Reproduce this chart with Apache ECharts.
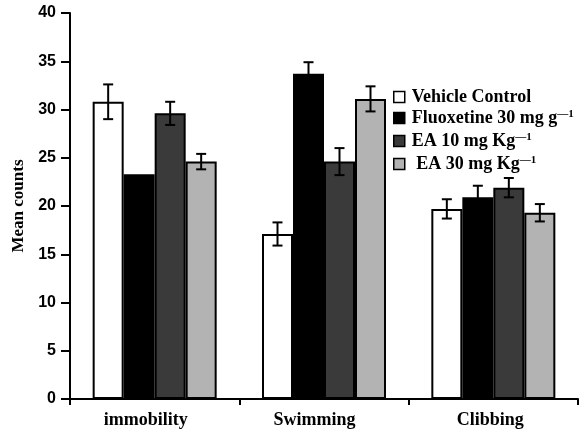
<!DOCTYPE html>
<html><head><meta charset="utf-8">
<script src="https://cdn.jsdelivr.net/npm/echarts@6/dist/echarts.min.js"></script>
<style>html,body{margin:0;padding:0;background:#fff}#c{width:584px;height:435px}</style>
</head><body><div id="c"></div>
<script>
const categories = ['immobility', 'Swimming', 'Clibbing'];
const seriesNames = ['Vehicle Control', 'Fluoxetine 30 mg g{sup|—1}', 'EA 10 mg Kg{sup|—1}', ' EA 30 mg Kg{sup|—1}'];
const vehicle = [30.8, 17.1, 19.7];
const fluoxetine = [23.3, 33.7, 20.9];
const ea10 = [29.6, 24.6, 21.9];
const ea30 = [24.6, 31.1, 19.3];
const vehicleErr = [1.8, 1.2, 1.0];
const fluoxetineErr = [0, 1.2, 1.2];
const ea10Err = [1.2, 1.4, 1.0];
const ea30Err = [0.8, 1.3, 0.9];
const yTicks = [0, 5, 10, 15, 20, 25, 30, 35, 40];

const values = [vehicle, fluoxetine, ea10, ea30];
const errs = [vehicleErr, fluoxetineErr, ea10Err, ea30Err];
const colors = ['#ffffff', '#000000', '#3a3a3a', '#b3b3b3'];
const barW = 31;
const serif = 'Liberation Serif';
const sans = 'Liberation Sans';
// per-label style nudges (label placement in the original)
const labelStyles = {
  l0: { padding: [0, 18, 0, 0] },
  l1: { padding: [0, 19, 2, 0] },
  l2: { padding: [0, 6, 0, 0] }
};
Object.values(labelStyles).forEach(s => Object.assign(s, { fontFamily: serif, fontWeight: 'bold', fontSize: 18, color: '#000' }));

const chart = echarts.init(document.getElementById('c'));
const series = [];
values.forEach((v, i) => {
  series.push({
    name: seriesNames[i], type: 'bar', data: v, barWidth: barW, barGap: '0%',
    itemStyle: { color: colors[i], borderColor: '#000', borderWidth: 2 }
  });
});
values.forEach((v, i) => {
  series.push({
    type: 'custom', silent: true, z: 5,
    data: v.map((val, k) => [k, val, errs[i][k]]),
    renderItem: function (params, api) {
      const k = api.value(0), val = api.value(1), e = api.value(2);
      if (!e) return null;
      const top = api.coord([k, val + e]);
      const bot = api.coord([k, val - e]);
      const x = top[0] + (i - 1.5) * barW;
      const cw = 5;
      const st = { stroke: '#000', lineWidth: 2 };
      return { type: 'group', children: [
        { type: 'line', shape: { x1: x, y1: top[1], x2: x, y2: bot[1] }, style: st },
        { type: 'line', shape: { x1: x - cw, y1: top[1], x2: x + cw, y2: top[1] }, style: st },
        { type: 'line', shape: { x1: x - cw, y1: bot[1], x2: x + cw, y2: bot[1] }, style: st }
      ]};
    }
  });
});

chart.setOption({
  animation: false,
  grid: { left: 70, right: 6, top: 13, bottom: 36, containLabel: false, outerBoundsMode: 'none' },
  legend: {
    orient: 'vertical', left: 393, top: 88, itemWidth: 11, itemHeight: 11, itemGap: 3,
    icon: 'rect', padding: 0,
    data: seriesNames.map((n, i) => ({ name: n, itemStyle: { color: colors[i], borderColor: '#000', borderWidth: 1.5 } })),
    textStyle: { fontFamily: serif, fontWeight: 'bold', fontSize: 18, lineHeight: 18, color: '#000', padding: [0, 0, 0, 2],
      rich: { sup: { fontFamily: serif, fontSize: 11, lineHeight: 18, fontWeight: 'bold', color: '#000', verticalAlign: 'top', padding: [0, 0, 9, 0] } } }
  },
  xAxis: {
    type: 'category', data: categories,
    axisLine: { lineStyle: { color: '#000', width: 2 } },
    axisTick: { show: true, length: 6, lineStyle: { color: '#000', width: 2 } },
    axisLabel: { color: '#000', fontFamily: serif, fontWeight: 'bold', fontSize: 18, margin: 12,
      formatter: (v, idx) => '{l' + idx + '|' + v + '}', rich: labelStyles }
  },
  yAxis: {
    type: 'value', min: yTicks[0], max: yTicks[yTicks.length - 1], interval: 5,
    name: 'Mean counts', nameLocation: 'middle', nameGap: 40, nameRotate: 90,
    nameTextStyle: { color: '#000', fontFamily: serif, fontWeight: 'bold', fontSize: 17 },
    splitLine: { show: false },
    axisLine: { show: true, lineStyle: { color: '#000', width: 2 } },
    axisTick: { show: true, length: 9, lineStyle: { color: '#000', width: 2 } },
    axisLabel: { color: '#000', fontFamily: sans, fontWeight: 'bold', fontSize: 16, margin: 14 }
  },
  series: series
});
</script></body></html>
